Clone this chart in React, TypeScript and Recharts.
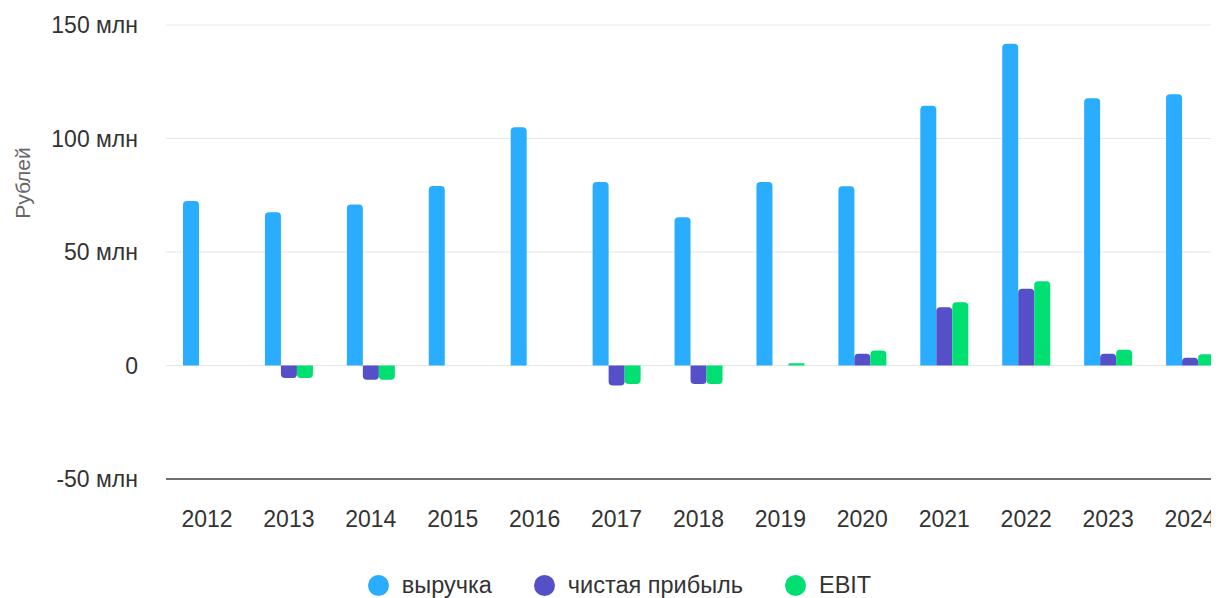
import { Bar, BarChart, CartesianGrid, Legend, XAxis, YAxis } from "recharts";

// values in millions of rubles
const years = ["2012", "2013", "2014", "2015", "2016", "2017", "2018", "2019", "2020", "2021", "2022", "2023", "2024"];
const revenue = [72.5, 67.5, 70.9, 79.1, 105, 80.8, 65.3, 80.8, 79.0, 114.4, 141.7, 117.7, 119.5];
const netProfit = [null, -5.5, -6.3, null, null, -8.8, -8.1, 0, 5.2, 25.7, 33.8, 5.2, 3.4];
const ebit = [null, -5.5, -6.3, null, null, -8.1, -8.1, 1.0, 6.6, 27.9, 37.1, 6.9, 5.0];
const yTicks = [-50, 0, 50, 100, 150];

const series = [
  { key: "revenue", name: "выручка", color: "#2aacff" },
  { key: "netProfit", name: "чистая прибыль", color: "#5550c8" },
  { key: "ebit", name: "EBIT", color: "#00df72" },
];

const data = years.map((year, i) => ({
  year,
  revenue: revenue[i],
  netProfit: netProfit[i],
  ebit: ebit[i],
}));

const FONT = "'Liberation Sans', Arial, sans-serif";

const fmt = (v: number) => (v === 0 ? "0" : `${v} млн`);

const LegendRow = () => (
  <div
    style={{
      display: "flex",
      justifyContent: "center",
      alignItems: "center",
      height: 26,
      fontFamily: FONT,
      fontSize: 23.5,
      color: "#333",
    }}
  >
    {series.map((s) => (
      <div key={s.key} style={{ display: "flex", alignItems: "center", margin: "0 21px" }}>
        <span
          style={{
            width: 21,
            height: 21,
            borderRadius: "50%",
            background: s.color,
            display: "inline-block",
            marginRight: 13,
          }}
        />
        <span>{s.name}</span>
      </div>
    ))}
  </div>
);

const AxisTitle = () => (
  <text
    x={14}
    y={175}
    transform="rotate(-90 14 175)"
    textAnchor="middle"
    dominantBaseline="central"
    fill="#666"
    fontSize={21}
    fontFamily={FONT}
  >
    Рублей
  </text>
);

export default function App() {
  return (
    <div style={{ width: 1211, height: 590, overflow: "hidden" }}>
      <BarChart
        width={1240}
        height={590}
        data={data}
        margin={{ top: 17, right: 17, bottom: 0, left: 0 }}
        barGap={0}
        barSize={16}
      >
        <CartesianGrid vertical={false} stroke="#e6e6e6" />
        <XAxis
          dataKey="year"
          height={93}
          axisLine={{ stroke: "#444", strokeWidth: 1.5 }}
          tickLine={false}
          tickMargin={26}
          tick={{ fill: "#333", fontSize: 23, fontFamily: FONT }}
          interval={0}
        />
        <YAxis
          width={158}
          domain={[-50, 150]}
          ticks={yTicks}
          tickFormatter={fmt}
          axisLine={false}
          tickLine={false}
          tickMargin={22}
          tick={{ fill: "#333", fontSize: 23, fontFamily: FONT }}
          label={{ content: () => <AxisTitle /> }}
        />
        <Legend verticalAlign="bottom" content={() => <LegendRow />} />
        {series.map((s) => (
          <Bar
            key={s.key}
            dataKey={s.key}
            name={s.name}
            fill={s.color}
            radius={[4, 4, 0, 0]}
            isAnimationActive={false}
          />
        ))}
      </BarChart>
    </div>
  );
}
